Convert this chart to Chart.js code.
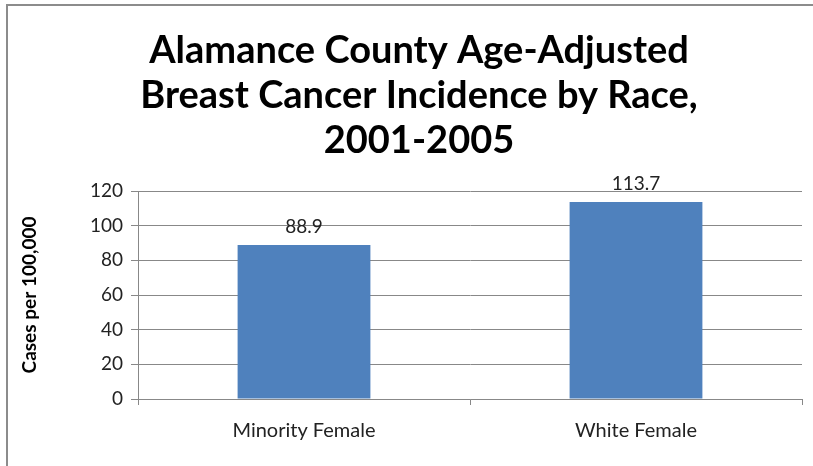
<!DOCTYPE html>
<html lang="en">
<head>
    <meta charset="UTF-8" />
    <title>Alamance County Age-Adjusted Breast Cancer Incidence by Race, 2001-2005</title>
    <script src="https://cdn.jsdelivr.net/npm/chart.js"></script>
    <style>
        html, body { margin: 0; padding: 0; background: #fff; overflow: hidden; }
        #wrap { position: relative; width: 813px; height: 466px; overflow: hidden; }
        #myChart { display: block; }
        #frame {
            position: absolute; left: 6px; top: 4px; right: 0; bottom: 0;
            border-top: 2px solid #8c8c8c; border-left: 2px solid #8c8c8c;
            pointer-events: none;
        }
    </style>
</head>
<body>
    <div id="wrap">
        <canvas id="myChart" width="813" height="466"></canvas>
        <div id="frame"></div>
    </div>

    <script>
        const categories = ['Minority Female', 'White Female'];
        const rates = [88.9, 113.7];
        const yTicks = [0, 20, 40, 60, 80, 100, 120];
        const titleLines = ['Alamance County Age-Adjusted', 'Breast Cancer Incidence by Race,', '2001-2005'];

        const fontFamily = 'Lato, "Open Sans", sans-serif';

        // three-line heading, centred a little right of the canvas middle
        const heading = {
            id: 'heading',
            afterDraw(chart) {
                const ctx = chart.ctx;
                ctx.save();
                ctx.font = 'bold 38px ' + fontFamily;
                ctx.fillStyle = '#000';
                ctx.textAlign = 'center';
                ctx.textBaseline = 'alphabetic';
                titleLines.forEach((line, i) => {
                    ctx.fillText(line, 419, 63 + i * 45);
                });
                ctx.restore();
            }
        };

        // value written above each bar
        const barValues = {
            id: 'barValues',
            afterDatasetsDraw(chart) {
                const ctx = chart.ctx;
                ctx.save();
                ctx.font = '19px ' + fontFamily;
                ctx.fillStyle = '#222';
                ctx.textAlign = 'center';
                ctx.textBaseline = 'bottom';
                chart.getDatasetMeta(0).data.forEach((bar, i) => {
                    ctx.fillText(rates[i].toFixed(1), bar.x, bar.y - 9);
                });
                ctx.restore();
            }
        };

        const ctx = document.getElementById('myChart').getContext('2d');

        let chart = new Chart(ctx, {
            type: 'bar',
            data: {
                labels: categories,
                datasets: [{
                    data: rates,
                    backgroundColor: '#4F81BD',
                    borderWidth: 0,
                    barPercentage: 0.4,
                    categoryPercentage: 1.0
                }]
            },
            options: {
                responsive: false,
                animation: false,
                layout: { padding: { left: 0, right: 11, top: 191, bottom: 0 } },
                plugins: {
                    legend: { display: false },
                    tooltip: { enabled: false },
                    title: { display: false }
                },
                scales: {
                    x: {
                        grid: {
                            offset: true,
                            drawOnChartArea: false,
                            color: '#888',
                            tickLength: 6
                        },
                        border: { color: '#888' },
                        ticks: {
                            color: '#222',
                            font: { family: fontFamily, size: 20 },
                            padding: 14
                        },
                        afterFit(scale) { scale.height = 67; }
                    },
                    y: {
                        min: 0,
                        max: 120,
                        afterBuildTicks(scale) {
                            scale.ticks = yTicks.map(v => ({ value: v }));
                        },
                        grid: { color: '#888', tickLength: 7 },
                        border: { color: '#888' },
                        ticks: {
                            color: '#222',
                            font: { family: fontFamily, size: 19 },
                            padding: 8
                        },
                        title: {
                            display: true,
                            text: 'Cases per 100,000',
                            color: '#000',
                            font: { family: fontFamily, size: 19, weight: 'bold' },
                            padding: { top: 18, bottom: 0 }
                        },
                        afterFit(scale) { scale.width = 138; }
                    }
                }
            },
            plugins: [barValues, heading]
        });
    </script>
</body>
</html>
